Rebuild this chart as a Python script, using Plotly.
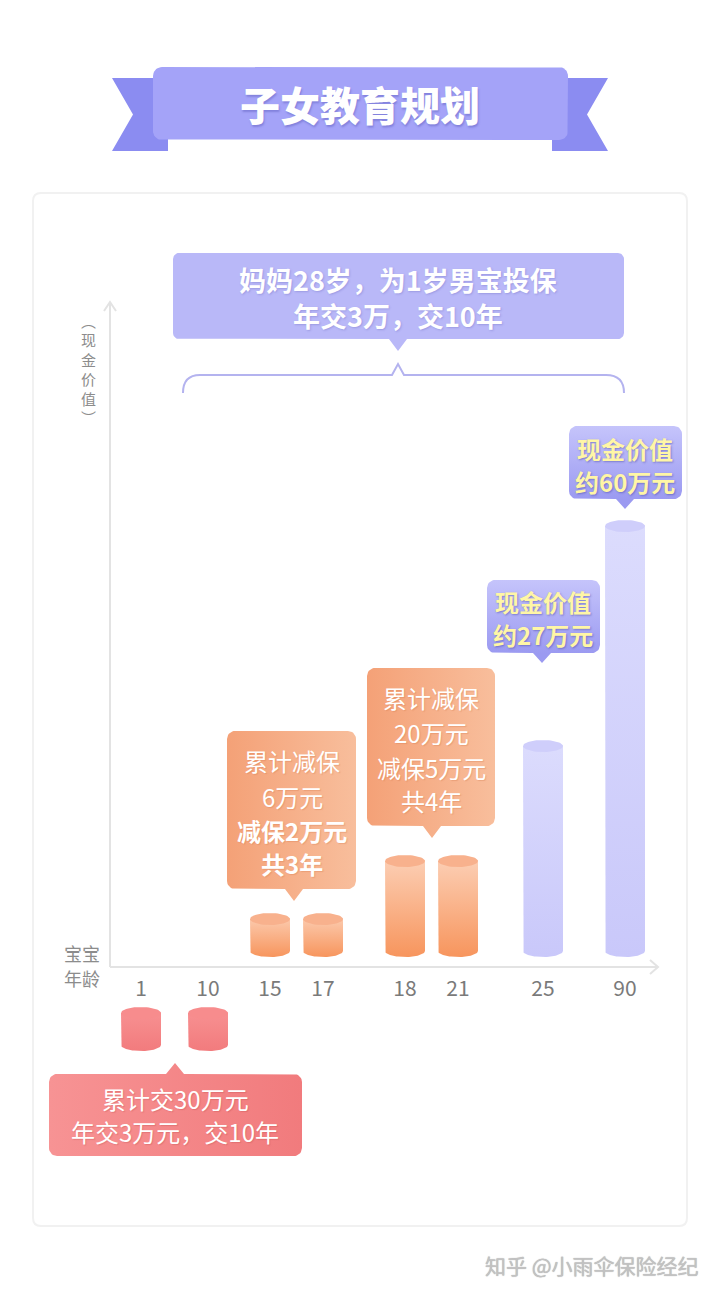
import numpy as np
import plotly.graph_objects as go

# ---------------- data ----------------
ages = ["1", "10", "15", "17", "18", "21", "25", "90"]          # tick labels (宝宝年龄)
pay_ages = ["1", "10"]
pay_heights = [32, 32]                 # 交费 cylinders (drawn below the axis)
reduce_ages = ["15", "17", "18", "21"]
reduce_heights = [32, 32, 90, 90]      # 减保 cylinders
value_ages = ["25", "90"]
value_heights = [205, 425]             # 现金价值 cylinders

title_text = "子女教育规划"
top_note = ["妈妈28岁，为1岁男宝投保", "年交3万，交10年"]
note_reduce_a = ["累计减保", "6万元", "减保2万元", "共3年"]
note_reduce_b = ["累计减保", "20万元", "减保5万元", "共4年"]
note_value_a = ["现金价值", "约27万元"]
note_value_b = ["现金价值", "约60万元"]
note_pay = ["累计交30万元", "年交3万元，交10年"]
y_label = ["︵", "现", "金", "价", "值", "︶"]
x_label = ["宝宝", "年龄"]
watermark = "知乎 @小雨伞保险经纪"

# ---------------- layout constants ----------------
W, H = 720, 1295
SLOT = {"1": 141, "10": 208, "15": 270, "17": 323, "18": 405, "21": 458, "25": 543, "90": 625}
BASE = 951          # bottom-ellipse centre of cylinders above the axis
PAY_TOP = 1013      # top-ellipse centre of cylinders below the axis
CW, RY = 40, 6
AXIS_Y, AXIS_X = 967, 110
FONT = "Noto Sans CJK SC"

fig = go.Figure()


def poly(xs, ys, fillcolor=None, grad=None):
    kw = dict(x=list(xs), y=list(ys), mode="lines", fill="toself",
              line=dict(width=0, color="rgba(0,0,0,0)"), hoverinfo="skip", showlegend=False)
    if grad is not None:
        kw["fillgradient"] = grad
    else:
        kw["fillcolor"] = fillcolor
    fig.add_trace(go.Scatter(**kw))


def arc(cx, cy, r, a0, a1, n=10):
    t = np.radians(np.linspace(a0, a1, n))
    return list(cx + r * np.cos(t)), list(cy + r * np.sin(t))


def rrect(x0, y0, x1, y1, r, ptr=None):
    xs, ys = [], []
    def add(a):
        xs.extend(a[0]); ys.extend(a[1])
    add(arc(x0 + r, y0 + r, r, 180, 270))
    if ptr and ptr[2] == "top":
        px, tip, hw = ptr[0], ptr[1], 9
        xs.extend([px - hw, px, px + hw]); ys.extend([y0, tip, y0])
    add(arc(x1 - r, y0 + r, r, 270, 360))
    add(arc(x1 - r, y1 - r, r, 0, 90))
    if ptr and ptr[2] == "bottom":
        px, tip, hw = ptr[0], ptr[1], 9
        xs.extend([px + hw, px, px - hw]); ys.extend([y1, tip, y1])
    add(arc(x0 + r, y1 - r, r, 90, 180))
    xs.append(xs[0]); ys.append(ys[0])
    return xs, ys


def hgrad(c0, c1, x0, x1):
    return dict(type="horizontal", colorscale=[[0, c0], [1, c1]], start=x0, stop=x1)


def vgrad(c0, c1, y0, y1):
    return dict(type="vertical", colorscale=[[0, c0], [1, c1]], start=y0, stop=y1)


def cylinder(xc, y_top, y_bot, c_top, c_bot, c_cap):
    rx = CW / 2
    t = np.linspace(np.pi, 0, 40)
    xs = [xc - rx, xc - rx] + list(xc + rx * np.cos(t)) + [xc + rx, xc - rx]
    ys = [y_top, y_bot] + list(y_bot + RY * np.sin(t)) + [y_top, y_top]
    poly(xs, ys, grad=vgrad(c_top, c_bot, y_top - RY, y_bot + RY))
    t2 = np.linspace(0, 2 * np.pi, 60)
    poly(xc + rx * np.cos(t2), y_top + RY * np.sin(t2), fillcolor=c_cap)


# ---------------- title ribbon ----------------
poly([112, 168, 168, 112, 133, 112], [78, 78, 151, 151, 114.5, 78], fillcolor="#8b8cf1")
poly([608, 552, 552, 608, 587, 608], [78, 78, 151, 151, 114.5, 78], fillcolor="#8b8cf1")
poly(*rrect(153, 67, 568, 140, 9), fillcolor="#a4a3f8")

# ---------------- top note box ----------------
poly(*rrect(173, 253, 624, 339, 6, ptr=(398, 351, "bottom")), fillcolor="#b9b8f8")

# ---------------- callout boxes ----------------
poly(*rrect(227, 731, 356, 889, 8, ptr=(294, 901, "bottom")),
     grad=hgrad("#f4a177", "#f8be9c", 227, 356))
poly(*rrect(367, 668, 495, 826, 8, ptr=(432, 838, "bottom")),
     grad=hgrad("#f4a177", "#f8be9c", 367, 495))
poly(*rrect(487, 580, 600, 653, 8, ptr=(542, 663, "bottom")),
     grad=vgrad("#c5c4fb", "#9b9af1", 580, 653))
poly(*rrect(569, 426, 682, 499, 8, ptr=(625, 509, "bottom")),
     grad=vgrad("#c5c4fb", "#9b9af1", 426, 499))
poly(*rrect(49, 1074, 302, 1156, 8, ptr=(175, 1063, "top")),
     grad=hgrad("#f79394", "#f17b7d", 49, 302))

# ---------------- cylinders (from data) ----------------
for a, h in zip(pay_ages, pay_heights):
    cylinder(SLOT[a], PAY_TOP, PAY_TOP + h, "#f89394", "#f27b7d", "#f78c8d")
for a, h in zip(reduce_ages, reduce_heights):
    cylinder(SLOT[a], BASE - h, BASE, "#fcd1b8", "#f7955d", "#f8b18d")
for a, h in zip(value_ages, value_heights):
    cylinder(SLOT[a], BASE - h, BASE, "#dcdcfd", "#c9c8fa", "#cfcefb")

# invisible trace carrying the age axis
fig.add_trace(go.Scatter(x=[SLOT[a] for a in ages], y=[0.5] * len(ages), xaxis="x2", yaxis="y2",
                         mode="markers", marker=dict(opacity=0), hoverinfo="skip", showlegend=False))

# ---------------- shapes: card, axes, bracket ----------------
shapes = []
shapes.append(dict(type="path", layer="below", xref="x", yref="y",
                   path="M41,193 L679,193 Q687,193 687,201 L687,1218 Q687,1226 679,1226 "
                        "L41,1226 Q33,1226 33,1218 L33,201 Q33,193 41,193 Z",
                   fillcolor="#ffffff", line=dict(color="#f1f1f1", width=2)))
axis_line = dict(color="#e3e3e3", width=2)
shapes.append(dict(type="line", x0=AXIS_X, x1=AXIS_X, y0=AXIS_Y, y1=302, line=axis_line))
shapes.append(dict(type="path", path=f"M{AXIS_X-6},311 L{AXIS_X},302 L{AXIS_X+6},311", line=axis_line))
shapes.append(dict(type="line", x0=AXIS_X, x1=658, y0=AXIS_Y, y1=AXIS_Y, line=axis_line))
shapes.append(dict(type="path", path=f"M650,{AXIS_Y-7} L658,{AXIS_Y} L650,{AXIS_Y+7}", line=axis_line))
shapes.append(dict(type="path",
                   path="M183,393 Q183,375 200,375 L392,375 L398,364 L404,375 L606,375 Q624,375 624,393",
                   line=dict(color="#b4b3ef", width=2)))
for s in shapes:
    s.setdefault("xref", "x")
    s.setdefault("yref", "y")
    s.setdefault("layer", "above")

# ---------------- text ----------------
ann = []


def txt(x, y, s, size, color, weight="normal", shadow="none"):
    ann.append(dict(x=x, y=y, xref="x", yref="y", text=s, showarrow=False,
                    xanchor="center", yanchor="middle",
                    font=dict(family=FONT, size=size, color=color, weight=weight, shadow=shadow)))


txt(360, 104, title_text, 40, "#ffffff", 900, "1px 2px 2px rgba(70,70,170,0.35)")
for s, y in zip(top_note, [279, 315]):
    txt(398, y, s, 27, "#ffffff", "bold", "1px 1px 2px rgba(90,90,180,0.3)")
for s, y, wgt in zip(note_reduce_a, [760, 796, 830, 863], ["normal", "normal", "bold", "bold"]):
    txt(292, y, s, 24, "#ffffff", wgt, "1px 1px 1px rgba(200,100,50,0.25)")
for s, y in zip(note_reduce_b, [697, 732, 767, 800]):
    txt(431, y, s, 24, "#ffffff", "normal", "1px 1px 1px rgba(200,100,50,0.25)")
for s, y in zip(note_value_a, [601, 634]):
    txt(543, y, s, 24, "#fff6a6", "bold", "1px 1px 2px rgba(60,60,150,0.45)")
for s, y in zip(note_value_b, [448, 481]):
    txt(625, y, s, 24, "#fff6a6", "bold", "1px 1px 2px rgba(60,60,150,0.45)")
for s, y in zip(note_pay, [1098, 1131]):
    txt(175, y, s, 24, "#ffffff", "normal", "1px 1px 1px rgba(180,60,60,0.25)")
for i, s in enumerate(y_label):
    txt(88, 320 + i * 19.5, s, 15, "#8c8c8c")
for s, y in zip(x_label, [953, 978]):
    txt(82, y, s, 18, "#8c8c8c")
txt(592, 1265, watermark, 21, "#c2c2c2", "normal", "0px 0px 1px rgba(0,0,0,0.35)")

fig.update_layout(
    width=W, height=H, margin=dict(l=0, r=0, t=0, b=0),
    paper_bgcolor="#ffffff", plot_bgcolor="rgba(0,0,0,0)",
    showlegend=False, shapes=shapes, annotations=ann,
    xaxis=dict(range=[0, W], visible=False, domain=[0, 1]),
    yaxis=dict(range=[H, 0], visible=False, domain=[0, 1]),
    xaxis2=dict(range=[0, W], domain=[0, 1], anchor="y2", showgrid=False, zeroline=False,
                showline=False, ticks="", tickvals=[SLOT[a] for a in ages], ticktext=ages,
                tickfont=dict(family=FONT, size=21, color="#7a7a7a"), ticklabelstandoff=7),
    yaxis2=dict(range=[0, 1], domain=[(H - AXIS_Y) / H, 1], visible=False, anchor="x2"),
)

fig.write_html("out.html")
